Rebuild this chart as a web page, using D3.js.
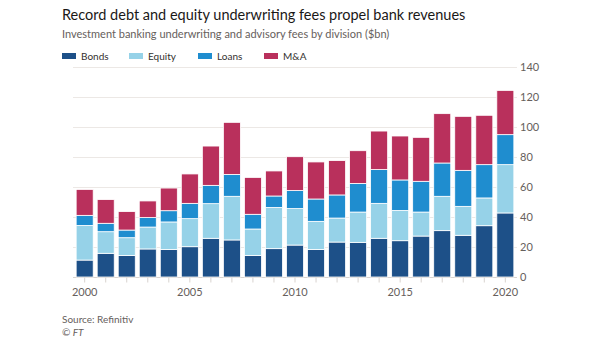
<!DOCTYPE html>
<html>
<head>
<meta charset="utf-8">
<script src="https://cdn.jsdelivr.net/npm/d3@7"></script>
<style>
  body { margin: 0; background: #fff; }
  text { font-family: Lato, "Open Sans", sans-serif; }
</style>
</head>
<body>
<script>
var years = d3.range(2000, 2021);
var bonds  = [11.3,15.8,14.4,18.7,18.4,20.2,25.8,24.7,14.4,18.9,21.3,18.4,23.3,23.1,25.8,24.2,27.3,30.9,27.8,34.2,42.7];
var equity = [23.1,14.4,11.8,14.6,18.3,18.7,23.1,29.1,17.6,27.5,24.3,18.7,16.0,20.2,23.3,20.2,16.0,22.9,19.3,18.5,32.2];
var loans  = [6.7,5.6,5.1,6.3,7.5,10.2,12.2,14.6,9.8,7.6,12.0,14.9,15.4,19.1,22.5,20.3,20.5,22.2,24.0,22.2,20.0];
var mna    = [17.3,15.8,12.3,11.1,15.1,19.6,26.2,34.7,24.6,16.7,22.6,24.7,22.9,21.8,25.7,29.3,29.3,32.9,36.0,32.9,29.5];
var seriesNames = ['Bonds', 'Equity', 'Loans', 'M&A'];
var colors = ['#1d5088', '#96d2e8', '#1f8dcf', '#b9305c'];
var yTicks = [0, 20, 40, 60, 80, 100, 120, 140];
var xLabels = [2000, 2005, 2010, 2015, 2020];

var rows = years.map(function(y, i) {
  return {year: y, Bonds: bonds[i], Equity: equity[i], Loans: loans[i], 'M&A': mna[i]};
});
var stacked = d3.stack().keys(seriesNames)(rows);

var svg = d3.select('body').append('svg')
  .attr('width', 605)
  .attr('height', 341);

var plotLeft = 73, plotRight = 517, plotTop = 67, plotBottom = 277;

var x = d3.scaleBand()
  .domain(years)
  .range([plotLeft, plotRight])
  .paddingInner(0.19)
  .paddingOuter(0.15);
var y = d3.scaleLinear()
  .domain([0, 140])
  .range([plotBottom, plotTop]);

// title etc
svg.append('text')
  .attr('x', 62).attr('y', 20)
  .attr('font-size', '14.5px')
  .attr('fill', '#1a1817')
  .text('Record debt and equity underwriting fees propel bank revenues');
svg.append('text')
  .attr('x', 62).attr('y', 38)
  .attr('font-size', '11px')
  .attr('fill', '#66605c')
  .text('Investment banking underwriting and advisory fees by division ($bn)');

var legX = [62, 129, 198, 264];
var leg = svg.append('g');
seriesNames.forEach(function(n, i) {
  leg.append('rect')
    .attr('x', legX[i]).attr('y', 53)
    .attr('width', 14).attr('height', 6)
    .attr('fill', colors[i]);
  leg.append('text')
    .attr('x', legX[i] + 19).attr('y', 60)
    .attr('font-size', '10px')
    .attr('fill', '#33302e')
    .text(n);
});

// grid
svg.append('g')
  .selectAll('line')
  .data(yTicks)
  .enter().append('line')
  .attr('x1', plotLeft).attr('x2', plotRight)
  .attr('y1', function(d) { return y(d) + 0.5; })
  .attr('y2', function(d) { return y(d) + 0.5; })
  .attr('stroke', function(d) { return d === 0 ? '#d8d3cf' : '#ece8e5'; })
  .attr('stroke-width', 1);

// y axis on right
svg.append('g')
  .attr('transform', 'translate(' + (plotRight + 3) + ',0)')
  .call(d3.axisRight(y).tickValues(yTicks).tickSize(0).tickPadding(0))
  .call(function(g) {
    g.select('.domain').remove();
    g.selectAll('text').attr('font-size', '11px').attr('fill', '#66605c')
      .style('font-family', 'Lato, "Open Sans", sans-serif');
  });

// bars
svg.append('g')
  .selectAll('g')
  .data(stacked)
  .enter().append('g')
  .attr('fill', function(d, i) { return colors[i]; })
  .selectAll('rect')
  .data(function(d) { return d; })
  .enter().append('rect')
  .attr('x', function(d) { return x(d.data.year); })
  .attr('width', x.bandwidth())
  .attr('y', function(d) { return y(d[1]); })
  .attr('height', function(d) { return y(d[0]) - y(d[1]); })
  .attr('stroke', '#fff')
  .attr('stroke-width', 0.8);

// x axis
svg.append('g')
  .attr('transform', 'translate(0,' + (plotBottom + 0.5) + ')')
  .call(d3.axisBottom(x).tickSize(5).tickPadding(6)
    .tickFormat(function(d) { return xLabels.indexOf(d) >= 0 ? d : ''; }))
  .call(function(g) {
    g.select('.domain').remove();
    g.selectAll('line').attr('stroke', '#d8d3cf');
    g.selectAll('text').attr('font-size', '11px').attr('fill', '#66605c')
      .style('font-family', 'Lato, "Open Sans", sans-serif');
  });

svg.append('text')
  .attr('x', 62).attr('y', 323)
  .attr('font-size', '10px')
  .attr('fill', '#66605c')
  .text('Source: Refinitiv');
svg.append('text')
  .attr('x', 62).attr('y', 336)
  .attr('font-size', '10px')
  .attr('font-style', 'italic')
  .attr('fill', '#66605c')
  .text('© FT');
</script>
</body>
</html>
